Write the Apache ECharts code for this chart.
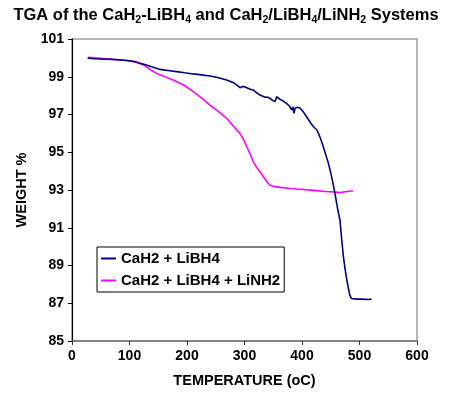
<!DOCTYPE html>
<html>
<head>
<meta charset="utf-8">
<title>TGA of the CaH2-LiBH4 and CaH2/LiBH4/LiNH2 Systems</title>
<script src="https://cdn.jsdelivr.net/npm/echarts@6/dist/echarts.min.js"></script>
<style>
  html, body { margin: 0; padding: 0; background: #fff; }
  #chart { width: 452px; height: 400px; }
</style>
</head>
<body>
<div id="chart"></div>
<script>
// Thermogravimetric traces: temperature (oC) and remaining weight (%)
const seriesNames = ['CaH2 + LiBH4', 'CaH2 + LiBH4 + LiNH2'];

const tempA = [27, 40, 55, 70, 83, 95, 110, 118, 125, 140, 153, 170, 182, 196, 211, 225, 240, 255,
  269, 280, 287, 292, 297, 301, 310, 315, 320, 327, 336, 340, 344, 349, 353, 356, 362, 368, 373,
  378, 382, 384, 386, 388, 392, 397, 402, 408, 415, 420, 426, 432, 437, 442, 446, 450, 454, 458,
  462, 466, 469, 472, 475, 478, 481, 483, 486, 489, 495, 505, 515, 521];
const weightA = [99.98, 99.95, 99.93, 99.92, 99.89, 99.86, 99.80, 99.71, 99.66, 99.52, 99.39, 99.32,
  99.27, 99.21, 99.15, 99.10, 99.04, 98.95, 98.83, 98.70, 98.56, 98.42, 98.49, 98.46, 98.34, 98.30,
  98.18, 98.03, 97.91, 97.92, 97.86, 97.75, 97.68, 97.94, 97.80, 97.70, 97.59, 97.45, 97.24, 97.40,
  97.06, 97.33, 97.38, 97.33, 97.15, 96.88, 96.55, 96.35, 96.18, 95.75, 95.29, 94.80, 94.41, 93.90,
  93.35, 92.70, 92.00, 91.41, 90.40, 89.47, 88.80, 88.23, 87.75, 87.44, 87.25, 87.17, 87.22, 87.22,
  87.20, 87.22];

const tempB = [28, 40, 55, 70, 85, 100, 118, 126, 133, 140, 147, 160, 176, 195, 211, 225, 240, 255,
  269, 280, 286, 292, 298, 304, 310, 315, 321, 327, 333, 339, 344, 352, 362, 380, 397, 420, 440,
  455, 466, 478, 489];
const weightB = [100.03, 100.00, 99.97, 99.93, 99.90, 99.85, 99.71, 99.60, 99.45, 99.30, 99.18,
  99.02, 98.83, 98.55, 98.21, 97.88, 97.50, 97.15, 96.80, 96.40, 96.20, 96.00, 95.70, 95.29, 94.90,
  94.50, 94.20, 93.97, 93.70, 93.44, 93.26, 93.18, 93.14, 93.08, 93.04, 92.98, 92.92, 92.90, 92.86,
  92.92, 92.96];

const xTicks = { min: 0, max: 600, step: 100 };
const yTicks = { min: 85, max: 101, step: 2 };

const pairs = (xs, ys) => xs.map((x, i) => [x, ys[i]]);

const FONT = '"Liberation Sans", Arial, Helvetica, sans-serif';
const chart = echarts.init(document.getElementById('chart'), null, { renderer: 'canvas' });

chart.setOption({
  animation: false,
  backgroundColor: '#ffffff',
  title: {
    text: 'TGA of the CaH{s|2}-LiBH{s|4} and CaH{s|2}/LiBH{s|4}/LiNH{s|2} Systems',
    left: 'center',
    top: 0,
    textStyle: {
      fontFamily: FONT,
      fontSize: 16.5,
      fontWeight: 'bold',
      color: '#000',
      lineHeight: 20,
      rich: {
        s: { fontFamily: FONT, fontSize: 10.5, fontWeight: 'bold', color: '#000', lineHeight: 10, padding: [10, 0, 0, 0] }
      }
    }
  },
  legend: {
    orient: 'vertical',
    left: 97,
    top: 247,
    padding: [3, 4, 3, 4],
    icon: 'rect',
    itemWidth: 15,
    itemHeight: 2,
    itemGap: 5,
    borderColor: '#000',
    borderWidth: 1,
    backgroundColor: '#fff',
    textStyle: { fontFamily: FONT, fontSize: 15, fontWeight: 'bold', color: '#000', lineHeight: 17 },
    data: seriesNames
  },
  grid: {
    left: 72,
    right: 35,
    top: 39,
    bottom: 59,
    show: true,
    borderColor: '#a0a0a0',
    borderWidth: 1.5,
    backgroundColor: '#fff'
  },
  xAxis: {
    type: 'value',
    min: xTicks.min,
    max: xTicks.max,
    interval: xTicks.step,
    name: 'TEMPERATURE (oC)',
    nameLocation: 'middle',
    nameGap: 32,
    nameTextStyle: { fontFamily: FONT, fontSize: 14.5, fontWeight: 'bold', color: '#000' },
    axisLine: { lineStyle: { color: '#707070', width: 1.5 } },
    axisTick: { length: 4, lineStyle: { color: '#303030' } },
    axisLabel: { margin: 8, fontFamily: FONT, fontSize: 14, fontWeight: 'bold', color: '#000' },
    splitLine: { show: false }
  },
  yAxis: {
    type: 'value',
    min: yTicks.min,
    max: yTicks.max,
    interval: yTicks.step,
    name: 'WEIGHT %',
    nameLocation: 'middle',
    nameGap: 42,
    nameRotate: 90,
    nameTextStyle: { fontFamily: FONT, fontSize: 14.5, fontWeight: 'bold', color: '#000' },
    axisLine: { show: true, lineStyle: { color: '#000', width: 1.2 } },
    axisTick: { show: true, length: 4, lineStyle: { color: '#000' } },
    axisLabel: { margin: 8, fontFamily: FONT, fontSize: 14, fontWeight: 'bold', color: '#000' },
    splitLine: { show: false }
  },
  series: [
    {
      name: seriesNames[0],
      type: 'line',
      data: pairs(tempA, weightA),
      showSymbol: false,
      symbol: 'none',
      lineStyle: { color: '#000080', width: 1.6 },
      itemStyle: { color: '#000080' },
      z: 3
    },
    {
      name: seriesNames[1],
      type: 'line',
      data: pairs(tempB, weightB),
      showSymbol: false,
      symbol: 'none',
      lineStyle: { color: '#ff00ff', width: 1.6 },
      itemStyle: { color: '#ff00ff' },
      z: 2
    }
  ]
});
</script>
</body>
</html>
